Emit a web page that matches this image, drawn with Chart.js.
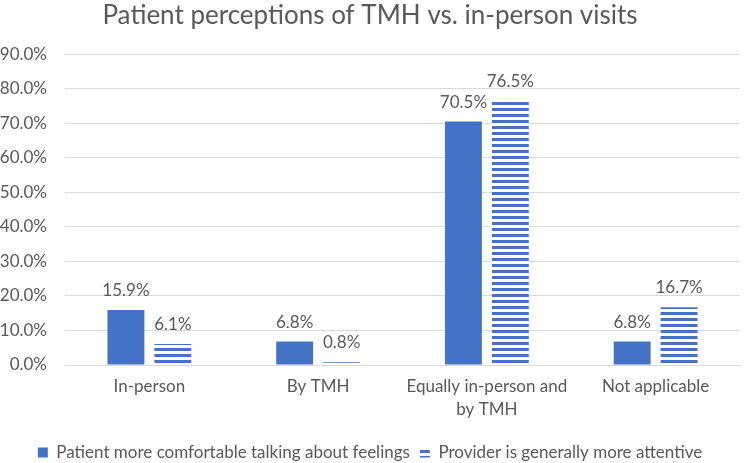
<!DOCTYPE html>
<html>
<head>
<meta charset="utf-8">
<script src="https://cdn.jsdelivr.net/npm/chart.js@4.4.1/dist/chart.umd.min.js"></script>
<style>
  html, body { margin: 0; padding: 0; background: #fff; }
</style>
</head>
<body>
<canvas id="chart" width="750" height="463"></canvas>
<script>
// Dados do gráfico
const categories = ["In-person", "By TMH", ["Equally in-person and", "by TMH"], "Not applicable"];
const comfortable = [15.9, 6.8, 70.5, 6.8];
const attentive = [6.1, 0.8, 76.5, 16.7];
const seriesNames = [
  "Patient more comfortable talking about feelings",
  "Provider is generally more attentive",
];
const yMax = 90;
const yStep = 10;

const FONT = "Lato, 'Open Sans', sans-serif";
const TEXT = "#595959";
const BLUE = "#4472C4";

// Padrão de listras horizontais para a segunda série
function stripePattern() {
  const c = document.createElement("canvas");
  c.width = 6;
  c.height = 6;
  const g = c.getContext("2d");
  g.fillStyle = "#ffffff";
  g.fillRect(0, 0, 6, 6);
  g.fillStyle = BLUE;
  g.fillRect(0, 0, 6, 3);
  return g.createPattern(c, "repeat");
}

// Rótulos de valor acima das barras
const barLabels = {
  id: "barLabels",
  afterDatasetsDraw(chart) {
    const ctx = chart.ctx;
    ctx.save();
    ctx.font = "17px " + FONT;
    ctx.fillStyle = TEXT;
    ctx.textAlign = "center";
    ctx.textBaseline = "alphabetic";
    chart.data.datasets.forEach((ds, i) => {
      chart.getDatasetMeta(i).data.forEach((bar, j) => {
        ctx.fillText(ds.data[j].toFixed(1) + "%", bar.x, bar.y - 14);
      });
    });
    ctx.restore();
  },
};

const chart = new Chart(document.getElementById("chart"), {
  type: "bar",
  data: {
    labels: categories,
    datasets: [
      {
        label: seriesNames[0],
        data: comfortable,
        backgroundColor: BLUE,
        barPercentage: 0.787,
        categoryPercentage: 0.556,
      },
      {
        label: seriesNames[1],
        data: attentive,
        backgroundColor: stripePattern(),
        barPercentage: 0.787,
        categoryPercentage: 0.556,
      },
    ],
  },
  options: {
    responsive: false,
    animation: false,
    layout: { padding: { top: 0, right: 10, bottom: -8, left: 0 } },
    plugins: {
      title: {
        display: true,
        text: "Patient perceptions of TMH vs. in-person visits",
        color: TEXT,
        font: { family: FONT, size: 26, weight: "normal" },
        padding: { top: 0, bottom: 23 },
      },
      legend: {
        position: "bottom",
        labels: {
          color: TEXT,
          font: { family: FONT, size: 17 },
          boxWidth: 10,
          boxHeight: 10,
          padding: 10,
        },
      },
      tooltip: { enabled: false },
    },
    scales: {
      x: {
        grid: { display: false, drawTicks: false },
        border: { color: "#D9D9D9" },
        ticks: {
          color: TEXT,
          font: { family: FONT, size: 17, lineHeight: 1.35 },
          padding: 10,
          maxRotation: 0,
        },
        afterFit(scale) {
          scale.height = 69;
        },
      },
      y: {
        min: 0,
        max: yMax,
        grid: { color: "#D9D9D9", drawTicks: false },
        border: { display: false },
        ticks: {
          stepSize: yStep,
          color: TEXT,
          font: { family: FONT, size: 17 },
          padding: 18,
          callback: (v) => v.toFixed(1) + "%",
        },
        afterFit(scale) {
          scale.width = 65;
        },
      },
    },
  },
  plugins: [barLabels],
});
</script>
</body>
</html>
